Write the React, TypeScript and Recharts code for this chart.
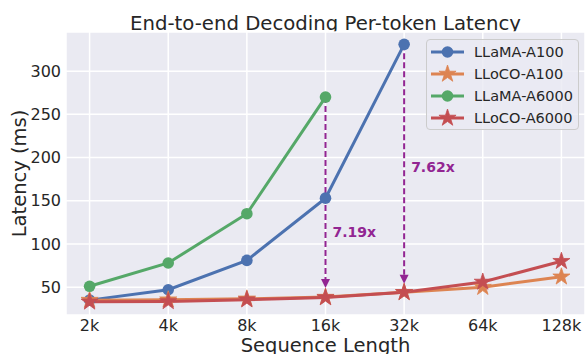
import React from "react"
import { LineChart, Line, XAxis, YAxis, CartesianGrid, Legend, ReferenceLine, ReferenceDot } from "recharts"

const categories = ["2k", "4k", "8k", "16k", "32k", "64k", "128k"]
const llamaA100 = [35, 47, 81, 153, 331, null, null]
const llocoA100 = [35, 35.5, 36.5, 38.5, 44, 50, 62]
const llamaA6000 = [51, 78, 135, 270, null, null, null]
const llocoA6000 = [33, 33.5, 35.5, 38, 44, 56, 80]
const yTicks = [50, 100, 150, 200, 250, 300]

// speedup arrows
const arrowIdx = [3, 4]
const arrowFrom = [270, 331]
const arrowTo = [49, 54]
const speedups = ["7.19x", "7.62x"]
const speedupY = [114, 189]

const series = [
  { key: "llamaA100", name: "LLaMA-A100", color: "#4C72B0", marker: "circle" },
  { key: "llocoA100", name: "LLoCO-A100", color: "#DD8452", marker: "star" },
  { key: "llamaA6000", name: "LLaMA-A6000", color: "#55A868", marker: "circle" },
  { key: "llocoA6000", name: "LLoCO-A6000", color: "#C44E52", marker: "star" },
]

const data = categories.map((c, i) => ({
  idx: i,
  label: c,
  llamaA100: llamaA100[i],
  llocoA100: llocoA100[i],
  llamaA6000: llamaA6000[i],
  llocoA6000: llocoA6000[i],
}))

const FONT = "'DejaVu Sans', sans-serif"
const TEXT = "#262626"
const PURPLE = "#922592"

function starPoints(cx: number, cy: number, R: number) {
  const r = R * 0.382
  const pts: string[] = []
  for (let k = 0; k < 10; k++) {
    const rad = k % 2 === 0 ? R : r
    const a = -Math.PI / 2 + (k * Math.PI) / 5
    pts.push(`${cx + rad * Math.cos(a)},${cy + rad * Math.sin(a)}`)
  }
  return pts.join(" ")
}

function Marker({ cx, cy, color, kind }: { cx: number; cy: number; color: string; kind: string }) {
  if (kind === "star") return <polygon points={starPoints(cx, cy, 9)} fill={color} stroke={color} strokeWidth={0.8} />
  return <circle cx={cx} cy={cy} r={5.8} fill={color} />
}

const makeDot = (color: string, kind: string) => (props: any) => {
  const { cx, cy, index, value } = props
  if (value == null || cx == null || cy == null) return <g key={index} />
  return (
    <g key={index}>
      <Marker cx={cx} cy={cy} color={color} kind={kind} />
    </g>
  )
}

const arrowShape = (props: any) => {
  const { x1, y1, x2, y2 } = props
  const head = 9
  return (
    <g>
      <line x1={x1} y1={y1} x2={x2} y2={y2 - head} stroke={PURPLE} strokeWidth={2} strokeDasharray="6 3" />
      <polygon points={`${x2 - 4.5},${y2 - head} ${x2 + 4.5},${y2 - head} ${x2},${y2}`} fill={PURPLE} />
    </g>
  )
}

function renderLegend() {
  return (
    <div
      style={{
        boxSizing: "border-box",
        width: 153,
        height: 91,
        background: "rgba(234,234,242,0.8)",
        border: "1px solid #cccccc",
        borderRadius: 4,
        paddingTop: 1,
        fontFamily: FONT,
        fontSize: 14.5,
        color: TEXT,
      }}
    >
      {series.map((s) => (
        <div key={s.key} style={{ height: 22, display: "flex", alignItems: "center" }}>
          <svg width={47} height={22} style={{ flex: "none" }}>
            <line x1={4} y1={11} x2={37} y2={11} stroke={s.color} strokeWidth={3} />
            <Marker cx={20.5} cy={11} color={s.color} kind={s.marker} />
          </svg>
          <span>{s.name}</span>
        </div>
      ))}
    </div>
  )
}

export default function App() {
  return (
    <div style={{ position: "absolute", left: 0, top: 0, width: 585, height: 354 }}>
      <svg width={585} height={40} style={{ position: "absolute", left: 0, top: 0 }}>
        <text x={325.5} y={30} textAnchor="middle" fontFamily={FONT} fontSize={19.7} fill={TEXT}>
          End-to-end Decoding Per-token Latency
        </text>
      </svg>
      <LineChart width={585} height={354} data={data} margin={{ top: 32, right: 0, bottom: 0, left: 0 }} style={{ fontFamily: FONT }}>
        <CartesianGrid fill="#EAEAF2" stroke="#ffffff" strokeWidth={1.5} />
        <XAxis
          type="number"
          dataKey="idx"
          domain={[-0.3, 6.3]}
          ticks={[0, 1, 2, 3, 4, 5, 6]}
          tickFormatter={(i: number) => categories[i]}
          allowDataOverflow
          axisLine={false}
          tickLine={false}
          tickSize={0}
          tickMargin={5}
          height={39}
          tick={{ fill: TEXT, fontSize: 16, fontFamily: FONT }}
          label={{ value: "Sequence Length", position: "insideBottom", offset: 2, fill: TEXT, fontSize: 19.5, fontFamily: FONT }}
        />
        <YAxis
          domain={[17.8, 345.3]}
          ticks={yTicks}
          allowDataOverflow
          axisLine={false}
          tickLine={false}
          tickSize={0}
          tickMargin={5}
          width={66}
          tick={{ fill: TEXT, fontSize: 16, fontFamily: FONT }}
          label={{
            content: () => (
              <text x={19} y={173.5} transform="rotate(-90 19 173.5)" textAnchor="middle" dominantBaseline="central" fill={TEXT} fontSize={19.5} fontFamily={FONT}>
                Latency (ms)
              </text>
            ),
          }}
        />
        {series.map((s) => (
          <Line
            key={s.key}
            dataKey={s.key}
            name={s.name}
            stroke={s.color}
            strokeWidth={3}
            dot={makeDot(s.color, s.marker)}
            activeDot={false}
            isAnimationActive={false}
          />
        ))}
        {arrowIdx.map((xi, i) => (
          <ReferenceLine
            key={`arrow-${i}`}
            segment={[
              { x: xi, y: arrowFrom[i] },
              { x: xi, y: arrowTo[i] },
            ]}
            shape={arrowShape}
          />
        ))}
        {arrowIdx.map((xi, i) => (
          <ReferenceDot
            key={`lbl-${i}`}
            x={xi}
            y={speedupY[i]}
            r={0}
            fill="none"
            stroke="none"
            label={{ value: speedups[i], position: "right", offset: 7, fill: PURPLE, fontSize: 14, fontWeight: "bold", fontFamily: FONT }}
          />
        ))}
        <Legend
          layout="horizontal"
          verticalAlign="middle"
          align="center"
          content={renderLegend}
          wrapperStyle={{ position: "absolute", left: 426, top: 39, width: 153, height: 91 }}
        />
      </LineChart>
    </div>
  )
}
